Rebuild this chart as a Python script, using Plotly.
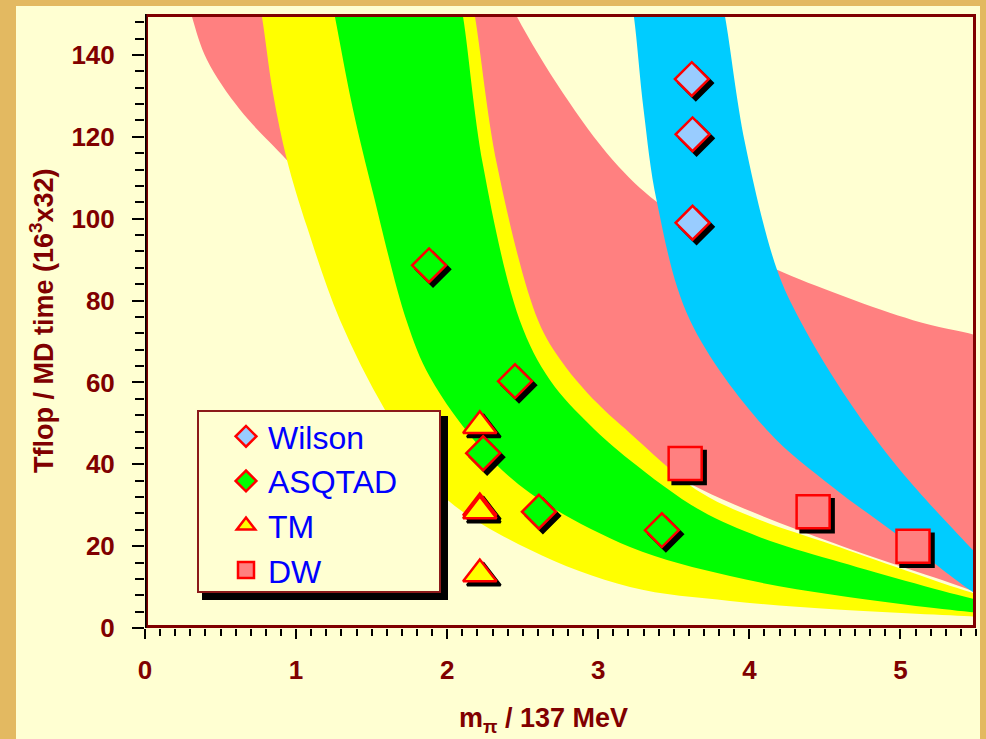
import plotly.graph_objects as go

# ---------------- data ----------------
# band boundaries: each band is the region between a lower/left curve and an upper/right curve
dw_lo_x = [0.24, 0.311, 0.410, 0.629, 0.940, 1.6, 2.4, 3.1, 3.673, 4.553, 5.460, 5.65]
dw_lo_y = [160, 149.3, 138.8, 126.6, 114.3, 88, 62, 46.5, 34.0, 20.8, 9.3, 6.5]
dw_hi_x = [2.33, 2.462, 2.766, 3.097, 3.388, 3.8, 4.183, 5.083, 5.493, 5.65]
dw_hi_y = [160, 149.3, 130.7, 114.3, 104.1, 94.8, 87.5, 75.2, 71.6, 69.5]

tm_lo_x = [0.72, 0.774, 0.847, 0.940, 1.072, 1.291, 1.588, 1.952, 2.548, 3.210, 3.872, 4.553, 5.460, 5.65]
tm_lo_y = [160, 149.3, 130.7, 114.3, 98.0, 75.2, 53.3, 33.0, 19.1, 10.0, 6.6, 4.6, 2.9, 2.6]
tm_hi_x = [2.13, 2.184, 2.330, 2.601, 2.766, 2.991, 3.210, 3.673, 4.070, 4.553, 5.460, 5.65]
tm_hi_y = [160, 149.3, 113.1, 75.2, 64.7, 55.0, 47.6, 33.2, 26.4, 20.3, 8.8, 7.0]

asq_lo_x = [1.20, 1.257, 1.377, 1.509, 1.730, 1.886, 2.217, 2.548, 3.210, 3.872, 4.553, 5.460, 5.65]
asq_lo_y = [160, 149.3, 126.6, 106.3, 75.2, 61.3, 44.2, 33.0, 19.8, 12.7, 8.1, 3.9, 3.4]
asq_hi_x = [2.05, 2.105, 2.237, 2.480, 2.680, 2.945, 3.210, 3.673, 4.070, 4.553, 5.460, 5.65]
asq_hi_y = [160, 149.3, 113.1, 75.2, 60.6, 49.6, 41.0, 28.8, 22.2, 16.6, 7.3, 5.8]

wil_lo_x = [3.19, 3.236, 3.300, 3.388, 3.607, 4.116, 4.553, 4.997, 5.460, 5.65]
wil_lo_y = [160, 149.3, 126.6, 104.1, 75.2, 48.4, 34.4, 22.3, 9.3, 5.0]
wil_hi_x = [3.78, 3.839, 3.971, 4.183, 4.335, 4.666, 4.997, 5.460, 5.65]
wil_hi_y = [160, 149.3, 118.5, 87.5, 75.2, 55.0, 38.6, 19.8, 12.6]

# measured points
wilson_x = [3.619, 3.624, 3.624]
wilson_y = [134.1, 120.6, 99.0]
asqtad_x = [1.88, 2.449, 2.238, 2.607, 3.421]
asqtad_y = [88.6, 60.3, 42.7, 28.4, 23.9]
tm_x = [2.216, 2.216, 2.216, 2.216]
tm_y = [49.4, 29.3, 28.6, 13.2]
dw_x = [3.575, 4.422, 5.083]
dw_y = [40.2, 28.4, 20.0]

series_names = ["Wilson", "ASQTAD", "TM", "DW"]
y_tick_vals = [0, 20, 40, 60, 80, 100, 120, 140]
x_tick_vals = [0, 1, 2, 3, 4, 5]

# ---------------- styling ----------------
CREAM = "#FFFFD2"
GOLD = "#E3B961"
DARKRED = "#800000"
PINK = "#FF8080"
YELLOW = "#FFFF00"
GREEN = "#00FF00"
BLUE = "#00CCFF"
FONT = "Liberation Sans, Arial, sans-serif"

X_RANGE = [0, 5.5]
Y_RANGE = [0, 150]
L, R, T, B = 145, 10, 14, 111
W, H = 986, 739
PW, PH = W - L - R, H - T - B

def px2paper_x(px):
    return (px - L) / PW

def px2paper_y(py):
    return (H - B - py) / PH

fig = go.Figure()

def band(lo_x, lo_y, hi_x, hi_y, color):
    fig.add_trace(go.Scatter(x=lo_x, y=lo_y, mode="lines", line=dict(width=0, shape="spline"),
                             showlegend=False, hoverinfo="skip"))
    fig.add_trace(go.Scatter(x=hi_x, y=hi_y, mode="lines", line=dict(width=0, shape="spline"),
                             fill="tonexty", fillcolor=color, showlegend=False, hoverinfo="skip"))

band(dw_lo_x, dw_lo_y, dw_hi_x, dw_hi_y, PINK)
band(tm_lo_x, tm_lo_y, tm_hi_x, tm_hi_y, YELLOW)
band(asq_lo_x, asq_lo_y, asq_hi_x, asq_hi_y, GREEN)
band(wil_lo_x, wil_lo_y, wil_hi_x, wil_hi_y, BLUE)

# marker shadows (offset by a few pixels down-right)
dx = 4 * (X_RANGE[1] - X_RANGE[0]) / PW
dy = 4 * (Y_RANGE[1] - Y_RANGE[0]) / PH

specs = [
    (wilson_x, wilson_y, "diamond", 26, "#99CCFF"),
    (asqtad_x, asqtad_y, "diamond", 26, GREEN),
    (tm_x, tm_y, "triangle-up", 29, YELLOW),
    (dw_x, dw_y, "square", 33, PINK),
]

for xs, ys, sym, size, fill in specs:
    fig.add_trace(go.Scatter(
        x=[v + dx for v in xs], y=[v - dy for v in ys], mode="markers",
        marker=dict(symbol=sym, size=size, color="black", line=dict(width=2.5, color="black")),
        showlegend=False, hoverinfo="skip"))

for name, (xs, ys, sym, size, fill) in zip(series_names, specs):
    fig.add_trace(go.Scatter(
        x=xs, y=ys, mode="markers", name=name,
        marker=dict(symbol=sym, size=size, color=fill, line=dict(width=2.5, color="#FF0000"))))

tickfont = dict(family=FONT, size=26, color=DARKRED, weight="bold")

fig.update_layout(
    width=W, height=H,
    margin=dict(l=L, r=R, t=T, b=B),
    paper_bgcolor=GOLD,
    plot_bgcolor=CREAM,
    xaxis=dict(range=X_RANGE, tickvals=x_tick_vals, ticks="outside", ticklen=10, tickwidth=2,
               tickcolor="black", showgrid=False, zeroline=False, showline=False,
               tickfont=tickfont, ticklabelstandoff=9,
               minor=dict(dtick=0.1, tick0=0, ticks="outside", ticklen=7, tickwidth=2, tickcolor="black")),
    yaxis=dict(range=Y_RANGE, tickvals=y_tick_vals, ticks="outside", ticklen=12, tickwidth=2,
               tickcolor="black", showgrid=False, zeroline=False, showline=False,
               tickfont=tickfont, ticklabelstandoff=12,
               minor=dict(dtick=4, tick0=0, ticks="outside", ticklen=9, tickwidth=2, tickcolor="black")),
    showlegend=True,
    legend=dict(
        x=px2paper_x(224), y=px2paper_y(409), xanchor="left", yanchor="top",
        bgcolor="rgba(0,0,0,0)", borderwidth=0, itemwidth=34, tracegroupgap=0,
        traceorder="normal",
        font=dict(family=FONT, size=32, color="#0000FF"),
    ),
    shapes=[
        # cream page panel
        dict(type="rect", xref="paper", yref="paper", layer="below",
             x0=px2paper_x(16), x1=px2paper_x(980), y0=px2paper_y(760), y1=px2paper_y(6),
             fillcolor=CREAM, line=dict(width=0)),
        # plot frame
        dict(type="rect", xref="x", yref="y", layer="above",
             x0=X_RANGE[0], x1=X_RANGE[1], y0=Y_RANGE[0], y1=Y_RANGE[1],
             line=dict(color=DARKRED, width=6)),
        dict(type="line", xref="x", yref="y", layer="above",
             x0=0, x1=0, y0=Y_RANGE[0], y1=Y_RANGE[1], line=dict(color="black", width=3)),
        # legend shadow and box
        dict(type="rect", xref="paper", yref="paper", layer="above",
             x0=px2paper_x(202), x1=px2paper_x(448), y0=px2paper_y(600), y1=px2paper_y(416),
             fillcolor="black", line=dict(width=0)),
        dict(type="rect", xref="paper", yref="paper", layer="above",
             x0=px2paper_x(198), x1=px2paper_x(440), y0=px2paper_y(592), y1=px2paper_y(411),
             fillcolor=CREAM, line=dict(color="#8B1A1A", width=2)),
    ],
    annotations=[
        dict(text="m<sub>π</sub> / 137 MeV", xref="paper", yref="paper",
             x=px2paper_x(543), y=px2paper_y(720), xanchor="center", yanchor="middle",
             showarrow=False, font=dict(family=FONT, size=27, color=DARKRED, weight="bold")),
        dict(text="Tflop / MD time (16<sup>3</sup>x32)", xref="paper", yref="paper",
             x=px2paper_x(42), y=px2paper_y(321), xanchor="center", yanchor="middle",
             textangle=-90, showarrow=False,
             font=dict(family=FONT, size=27, color=DARKRED, weight="bold")),
    ],
)

fig.write_html("out.html",
               config={"displayModeBar": False},
               post_script="document.body.style.margin='0px';document.body.style.background='%s';" % GOLD)
